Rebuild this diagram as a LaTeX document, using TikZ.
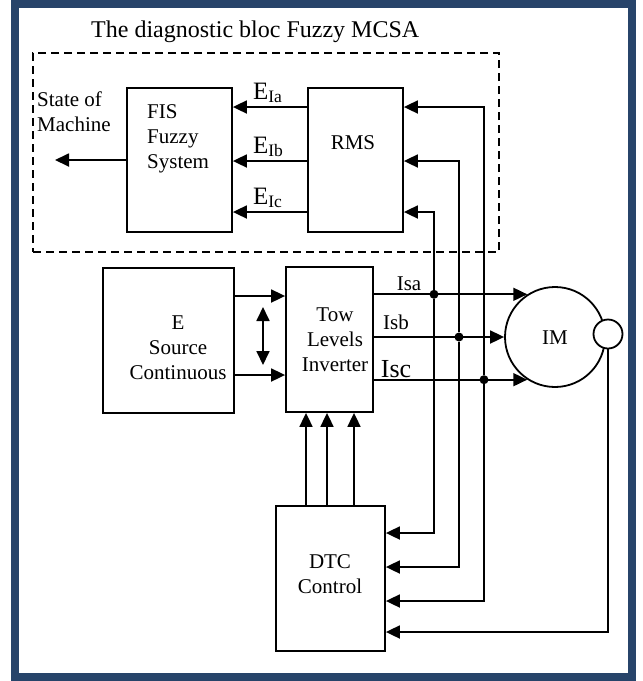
\documentclass[tikz,border=0pt]{standalone}
\usepackage{fontspec}
\setmainfont{Liberation Serif}
\usetikzlibrary{arrows.meta, positioning, calc}
\definecolor{frameblue}{HTML}{27446A}

\begin{document}
\begin{tikzpicture}[x=1pt, y=-1pt,
    box/.style={draw, line width=1.8pt, inner sep=0pt, minimum height=145pt},
    arr/.style={line width=1.8pt, -{Triangle[length=14pt, width=13pt]}},
    txt/.style={font=\fontsize{21}{25}\selectfont, inner sep=0pt},
    jdot/.style={circle, fill, inner sep=0pt, minimum size=9pt}]
  \useasboundingbox (0,0) rectangle (643,681);
  \draw[line width=8pt, frameblue] (15,4) rectangle (632,677);

  % diagnostic bloc
  \node[font=\fontsize{24}{28}\selectfont, inner sep=0pt, anchor=base west] (title) at (91,37) {The diagnostic bloc Fuzzy MCSA};
  \node[draw, line width=1.8pt, dash pattern=on 8pt off 5pt, minimum width=466pt, minimum height=199pt] (diag) at (266,152.5) {};
  \node[box, minimum width=105pt, minimum height=144pt] (fis) at (179.5,160) {};
  \node[box, minimum width=95pt, minimum height=144pt] (rms) at (355.5,160) {};
  \node[txt, align=left, anchor=west] (fistxt) at (147,139) {FIS\\Fuzzy\\System};
  \node[txt] (rmstxt) at (353,143) {RMS};
  \node[txt, align=left, anchor=west] (state) at (37,112) {State of\\Machine};
  \coordinate (out) at (55,160);
  \draw[arr] (fis.west) -- (out);
  \foreach \y/\s in {107/Ia, 161/Ib, 212/Ic}
    \draw[arr] (rms.west |- 0,\y) -- (fis.east |- 0,\y)
      node[font=\fontsize{25}{29}\selectfont, inner sep=0pt, anchor=base west, pos=0.74, yshift=8pt] {E\textsubscript{\s}};

  % drive
  \node[box, minimum width=131pt] (src) at (168.5,340.5) {};
  \node[box, minimum width=87pt] (inv) at (329.5,339.5) {};
  \node[box, minimum width=109pt] (dtc) at (330.5,578.5) {};
  \node[txt, align=center] (srctxt) at (178,347.5) {E\\Source\\Continuous};
  \node[txt, align=center] (invtxt) at (335,340) {Tow\\Levels\\Inverter};
  \node[txt, align=center] (dtctxt) at (330,574.5) {DTC\\Control};
  \node[draw, circle, line width=1.8pt, minimum size=100pt, inner sep=0pt] (im) at (555,337) {};
  \node[txt] (imtxt) at (555,338) {IM};
  \node[draw, circle, fill=white, line width=1.8pt, minimum size=29pt, inner sep=0pt] (sen) at (608,334) {};

  \draw[arr] (src.east |- 0,296) -- (inv.west |- 0,296);
  \draw[arr] (src.east |- 0,375) -- (inv.west |- 0,375);
  \coordinate (vtop) at (263,307);
  \coordinate (vbot) at (263,365);
  \draw[line width=1.8pt, {Triangle[length=14pt, width=13pt]}-{Triangle[length=14pt, width=13pt]}] (vtop) -- (vbot);

  % stator currents
  \draw[arr] (inv.east |- im.123) -- (im.123);
  \draw[arr] (inv.east |- im.west) -- (im.west);
  \draw[arr] (inv.east |- im.237) -- (im.237);
  \node[txt, anchor=base] (isa) at (409,290) {Isa};
  \node[txt, anchor=base] (isb) at (396,329) {Isb};
  \node[font=\fontsize{26}{30}\selectfont, inner sep=0pt, anchor=base] (isc) at (396,377) {Isc};
  \node[jdot] (ja) at (434,0 |- im.123) {};
  \node[jdot] (jb) at (459,0 |- im.west) {};
  \node[jdot] (jc) at (484,0 |- im.237) {};

  \draw[arr] (ja) |- (rms.east |- 0,212);
  \draw[arr] (ja) |- (dtc.east |- 0,533);
  \draw[arr] (jb) |- (rms.east |- 0,161);
  \draw[arr] (jb) |- (dtc.east |- 0,567);
  \draw[arr] (jc) |- (rms.east |- 0,107);
  \draw[arr] (jc) |- (dtc.east |- 0,601);
  \draw[arr] (sen.south) |- (dtc.east |- 0,632);

  % control signals
  \foreach \x in {306,327,354}
    \draw[arr] (dtc.north -| \x,0) -- (inv.south -| \x,0);
\end{tikzpicture}
\end{document}
